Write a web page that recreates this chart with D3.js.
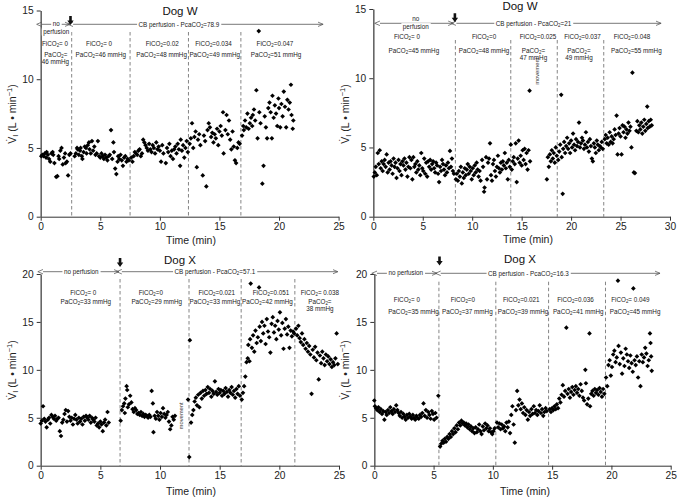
<!DOCTYPE html>
<html><head><meta charset="utf-8">
<script src="https://cdn.jsdelivr.net/npm/d3@7"></script>
<style>body{margin:0;background:#fff}text{font-family:"Liberation Sans",Arial,sans-serif}</style>
</head><body><svg id="c" width="678" height="499"></svg>
<script>
// ---------- DATA ----------
// Dog W, PcaCO2 = 78.9 (top-left)  [time (min), VI (L/min)]
const dogW_A = [
[0.05,4.4],[0.15,4.5],[0.25,4.4],[0.35,4.6],[0.45,4.3],[0.5,4.7],[0.6,4.5],[0.7,4.2],[0.8,4.0],[0.9,4.6],[1.0,4.7],[1.05,4.5],[1.15,3.9],[1.3,2.9],[1.4,2.95],[1.5,4.4],[1.55,4.2],[1.65,4.8],[1.75,5.0],[1.85,3.8],[1.95,4.3],[2.05,4.6],[2.1,3.9],[2.2,4.0],[2.3,3.0],[2.4,4.5],[2.5,4.6],
[2.85,4.4],[2.95,4.6],[3.05,5.0],[3.1,4.9],[3.2,4.5],[3.3,4.8],[3.35,5.0],[3.45,4.4],[3.5,4.2],[3.6,4.7],[3.7,5.1],[3.8,5.0],[3.85,4.6],[3.95,5.2],[4.05,5.4],[4.1,4.9],[4.2,4.6],[4.3,5.5],[4.4,4.8],[4.5,5.1],[4.6,4.5],[4.7,4.6],[4.8,5.5],[4.9,4.4],[5.0,4.3],[5.1,4.6],[5.2,4.4],[5.3,4.2],[5.4,4.5],[5.5,4.3],[5.6,4.1],[5.7,4.4],[5.8,4.5],[5.9,6.3],[6.0,4.2],[6.1,5.4],[6.15,4.7],[6.25,3.5],[6.35,3.1],[6.45,4.0],[6.5,4.4],[6.6,4.2],[6.7,4.5],[6.8,4.1],[6.9,3.7],[7.0,4.3],[7.1,4.4],[7.2,4.0],[7.3,4.2],[7.4,4.1],
[7.6,4.3],[7.7,4.0],[7.8,4.4],[7.9,4.7],[8.0,4.6],[8.1,4.5],[8.2,4.8],[8.3,4.9],[8.4,4.4],[8.5,4.6],[8.6,5.6],[8.7,5.4],[8.8,5.2],[8.9,5.0],[9.0,4.8],[9.1,5.3],[9.2,4.9],[9.3,4.7],[9.4,5.2],[9.5,5.0],[9.6,4.6],[9.7,5.4],[9.8,4.9],[9.9,5.1],[10.0,4.8],[10.1,4.0],[10.2,5.2],[10.3,4.6],[10.5,3.9],[10.6,5.0],[10.7,4.7],[10.8,5.3],[10.9,4.4],[11.0,4.8],[11.1,4.2],[11.2,4.9],[11.3,5.1],[11.4,4.6],[11.5,5.3],[11.6,4.9],[11.7,3.7],[11.75,5.6],[11.85,4.8],[11.95,5.2],[12.05,4.3],[12.15,5.0],[12.25,5.5],[12.35,4.7],
[12.5,5.3],[12.6,5.7],[12.7,6.8],[12.8,5.0],[12.9,5.8],[13.0,6.2],[13.1,3.6],[13.2,5.6],[13.3,6.0],[13.4,5.2],[13.6,3.0],[13.7,5.9],[13.8,5.5],[13.9,2.2],[14.0,6.3],[14.1,6.8],[14.2,6.5],[14.3,5.8],[14.4,6.1],[14.5,5.4],[14.6,6.0],[14.7,5.7],[14.8,6.4],[14.9,5.2],[15.0,6.2],[15.1,6.6],[15.2,5.9],[15.3,7.6],[15.35,4.6],[15.5,6.3],[15.6,7.4],[15.7,6.0],[15.8,7.0],[15.9,5.6],[16.0,4.9],[16.1,6.2],[16.2,5.1],[16.3,4.1],[16.4,3.9],[16.5,5.0],[16.6,5.4],[16.7,5.3],
[16.9,5.9],[17.0,6.6],[17.05,6.3],[17.15,7.0],[17.25,6.5],[17.35,7.5],[17.45,6.4],[17.55,6.8],[17.65,7.2],[17.75,6.6],[17.8,7.4],[17.9,7.8],[18.0,7.0],[18.1,9.2],[18.2,5.7],[18.3,13.5],[18.35,7.6],[18.45,6.8],[18.6,2.4],[18.7,3.7],[18.8,7.3],[18.9,6.5],[19.0,5.7],[19.1,7.9],[19.2,8.3],[19.3,7.6],[19.4,5.7],[19.45,8.8],[19.55,7.2],[19.65,8.1],[19.75,7.5],[19.85,6.6],[19.95,8.6],[20.0,7.9],[20.1,6.5],[20.2,8.2],[20.3,7.3],[20.4,9.1],[20.5,8.0],[20.6,6.5],[20.7,8.5],[20.8,7.8],[20.9,8.3],[21.0,9.6],[21.05,7.4],[21.15,6.4],[21.2,7.0]
];
// Dog W, PcaCO2 = 21 (top-right)
const dogW_B = [
[0.05,2.9],[0.15,3.2],[0.25,3.6],[0.35,3.0],[0.45,4.6],[0.55,3.8],[0.65,4.8],[0.75,3.5],[0.85,4.0],[0.95,3.3],[1.05,3.8],[1.15,4.1],[1.25,3.6],[1.35,4.5],[1.45,3.2],[1.55,3.9],[1.65,3.4],[1.75,4.0],[1.85,3.7],[1.95,3.1],[2.05,4.2],[2.15,3.6],[2.25,3.9],[2.35,2.8],[2.45,3.5],[2.55,4.1],[2.65,3.3],[2.75,3.8],[2.85,3.0],[2.95,4.0],[3.05,3.7],[3.15,4.2],[3.25,3.4],[3.35,3.9],[3.45,2.9],[3.55,3.6],[3.65,4.3],[3.75,3.5],[3.85,4.1],[3.95,2.7],[4.05,4.3],[4.15,3.6],[4.25,3.8],[4.35,3.2],[4.45,4.0],[4.55,3.4],[4.65,3.7],[4.75,3.0],[4.85,4.6],[4.95,3.5],[5.05,3.3],[5.15,4.2],[5.25,3.1],[5.35,3.9],[5.45,2.9],[5.55,4.0],[5.65,3.6],[5.75,4.1],[5.85,3.4],[5.95,3.8],[6.05,4.0],[6.15,3.5],[6.25,3.2],[6.35,3.9],[6.45,3.7],[6.55,3.1],[6.65,2.5],[6.75,3.6],[6.85,3.3],[6.95,4.1],[7.05,3.8],[7.15,3.4],[7.25,3.0],[7.35,3.7],[7.45,3.2],[7.55,3.9],[7.65,3.5],[7.75,4.75],[7.85,3.6],[7.95,4.2],[8.05,3.3],[8.15,3.1],
[8.35,2.7],[8.45,3.1],[8.55,2.6],[8.65,3.3],[8.75,2.9],[8.85,3.6],[8.95,2.4],[9.05,3.2],[9.15,2.8],[9.25,3.5],[9.35,3.0],[9.45,3.4],[9.55,3.8],[9.65,3.1],[9.75,3.6],[9.85,3.3],[9.95,2.7],[10.05,3.5],[10.15,3.0],[10.25,3.7],[10.35,3.2],[10.45,3.9],[10.55,3.4],[10.65,2.9],[10.75,3.3],[10.85,2.6],[11.0,4.1],[11.1,3.6],[11.2,1.8],[11.25,2.1],[11.4,4.3],[11.5,2.7],[11.6,3.9],[11.7,4.2],[11.8,5.3],[11.9,3.0],[12.0,2.6],[12.1,3.8],[12.2,4.1],[12.3,3.3],[12.4,2.9],[12.5,3.6],[12.6,4.4],[12.7,3.5],[12.8,3.2],[12.9,3.9],[13.0,3.4],[13.1,4.0],[13.2,3.7],[13.3,4.6],[13.4,3.5],[13.5,3.9],[13.6,2.7],[13.7,4.1],[13.8,3.6],[13.9,5.2],[14.0,3.4],[14.1,4.0],[14.2,4.3],[14.3,3.8],[14.4,5.3],[14.5,2.5],[14.6,4.2],[14.7,5.5],[14.8,3.9],[14.9,4.4],[15.0,3.7],[15.1,4.8],[15.2,4.1],[15.3,4.9],[15.4,3.8],[15.5,4.6],[15.6,3.4],[15.7,4.8],[15.8,9.1],[15.85,4.0],
[17.55,2.7],[17.65,4.3],[17.75,3.6],[17.85,4.5],[17.95,4.0],[18.05,4.8],[18.15,4.2],[18.25,4.6],[18.35,3.9],[18.45,5.0],[18.55,4.4],
[18.7,4.1],[18.8,4.7],[18.9,5.2],[19.0,8.8],[19.05,4.3],[19.15,1.65],[19.2,4.9],[19.3,5.4],[19.4,4.6],[19.5,5.1],[19.6,5.7],[19.7,4.9],[19.8,5.3],[19.9,4.6],[20.0,5.5],[20.1,5.0],[20.2,6.0],[20.3,5.2],[20.4,4.8],[20.5,5.6],[20.6,5.1],[20.7,5.4],[20.8,6.8],[20.9,5.0],[21.0,5.3],[21.1,5.7],[21.2,5.5],[21.3,4.9],[21.4,5.2],[21.5,6.1],[21.6,5.0],[21.7,5.4],[21.8,4.7],[21.9,5.6],[22.0,5.1],[22.1,4.2],[22.2,4.0],[22.3,5.3],[22.4,5.0],[22.5,4.6],[22.6,5.5],[22.7,5.2],[22.8,4.8],[22.9,5.1],[23.0,5.0],[23.1,5.4],[23.2,4.9],
[23.4,5.6],[23.5,5.9],[23.6,5.3],[23.7,5.7],[23.8,5.2],[23.9,6.1],[24.0,5.4],[24.1,5.8],[24.2,5.3],[24.3,5.6],[24.4,6.3],[24.5,5.9],[24.6,7.3],[24.7,4.5],[24.8,6.0],[24.9,6.4],[25.0,5.8],[25.1,4.5],[25.2,6.6],[25.3,6.1],[25.4,6.5],[25.5,5.7],[25.6,6.3],[25.7,6.0],[25.8,6.8],[25.9,6.2],[26.0,6.5],[26.1,5.0],[26.2,10.4],[26.35,3.2],[26.45,3.15],[26.6,6.2],[26.7,6.9],[26.8,6.1],[26.9,6.6],[27.0,6.3],[27.1,6.8],[27.2,6.0],[27.3,6.5],[27.4,7.0],[27.5,6.2],[27.6,6.7],[27.7,7.95],[27.75,6.4],[27.85,6.9],[27.95,6.5],[28.05,7.0],[28.15,6.6]
];
// Dog X, PcaCO2 = 57.1 (bottom-left)
const dogX_A = [
[0.0,4.4],[0.1,4.7],[0.2,6.2],[0.3,4.9],[0.4,4.6],[0.5,4.0],[0.6,4.8],[0.7,5.0],[0.8,4.4],[0.9,5.3],[1.0,5.1],[1.1,4.9],[1.2,5.2],[1.3,4.7],[1.4,4.9],[1.5,5.0],[1.6,3.6],[1.7,3.1],[1.8,4.5],[1.9,4.8],[2.0,5.4],[2.1,5.8],[2.2,4.6],[2.3,5.7],[2.4,5.1],[2.5,4.7],[2.6,5.0],[2.7,4.3],[2.8,4.9],[2.9,5.3],[3.0,4.8],[3.1,4.4],[3.2,5.0],[3.3,4.6],[3.4,4.9],[3.5,4.3],[3.6,5.1],[3.7,4.7],[3.8,5.2],[3.9,5.0],[4.0,4.8],[4.1,5.2],[4.2,4.5],[4.3,5.0],[4.4,4.8],[4.5,4.6],[4.6,5.0],[4.7,4.2],[4.8,4.4],[4.9,4.0],[5.0,4.6],[5.1,4.3],[5.2,3.6],[5.3,4.5],[5.4,4.8],[5.5,4.2],[5.6,5.6],[5.7,4.5],
[6.7,4.7],[6.8,5.8],[6.9,6.2],[7.0,6.5],[7.05,5.5],[7.1,7.0],[7.2,8.3],[7.25,7.9],[7.3,6.1],[7.4,6.4],[7.5,7.3],[7.6,6.6],[7.7,5.9],[7.8,5.6],[7.9,6.0],[8.0,5.8],[8.1,5.4],[8.2,5.5],[8.3,5.3],[8.4,5.6],[8.5,5.2],[8.6,5.4],[8.7,5.1],[8.8,5.3],[8.9,5.2],[9.0,5.0],[9.1,5.3],[9.2,5.1],[9.3,7.8],[9.4,6.5],[9.45,3.5],[9.55,5.2],[9.65,4.9],[9.75,5.6],[9.85,5.2],[9.95,4.8],[10.05,5.5],[10.15,5.1],[10.25,6.0],[10.35,5.4],[10.45,5.0],[10.55,5.3],[10.65,5.6],[10.75,4.6],[10.85,3.8],[10.95,4.2],[11.05,5.1],[11.15,4.8],[11.25,5.2],
[12.35,6.9],[12.45,0.9],[12.5,13.1],[12.6,4.5],[12.7,5.3],[12.8,5.8],[12.9,6.7],[13.0,7.1],[13.1,6.3],[13.2,7.4],[13.3,6.1],[13.4,7.6],[13.5,7.0],[13.6,7.8],[13.7,7.3],[13.8,7.9],[13.9,7.5],[14.0,8.2],[14.1,7.6],[14.2,8.0],[14.3,7.2],[14.4,7.8],[14.5,7.5],[14.6,8.8],[14.7,7.7],[14.8,7.4],[14.9,8.0],[15.0,7.6],[15.1,7.9],[15.2,7.3],[15.3,7.8],[15.4,7.5],[15.5,8.1],[15.6,7.7],[15.7,7.2],[15.8,7.9],[15.9,7.6],[16.0,8.2],[16.1,7.4],[16.2,7.8],[16.3,7.1],[16.4,8.0],[16.5,7.5],[16.6,8.3],[16.7,7.3],
[16.85,6.9],[16.95,7.6],[17.05,8.3],[17.15,9.3],[17.25,10.8],[17.35,11.2],[17.4,12.6],[17.5,10.9],[17.55,13.2],[17.6,19.0],[17.7,12.3],[17.8,13.6],[17.9,11.9],[18.0,14.1],[18.1,12.8],[18.2,13.4],[18.3,18.6],[18.35,14.5],[18.45,13.0],[18.55,15.0],[18.65,13.8],[18.75,14.6],[18.85,12.7],[18.95,15.3],[19.05,14.0],[19.15,13.4],[19.25,11.8],[19.35,14.8],[19.45,15.5],[19.55,13.9],[19.65,14.6],[19.75,13.2],[19.85,15.1],[19.95,14.2],[20.05,16.0],[20.15,13.6],[20.25,14.9],[20.35,12.2],[20.45,14.3],[20.55,15.3],[20.65,13.7],[20.75,14.5],[20.85,12.3],[20.95,14.1],[21.05,13.5],[21.15,14.0],[21.25,13.8],
[21.4,14.3],[21.5,13.6],[21.6,14.6],[21.7,13.3],[21.8,12.9],[21.9,13.8],[22.0,12.6],[22.1,13.2],[22.2,12.2],[22.3,12.8],[22.4,11.9],[22.5,12.5],[22.6,11.6],[22.7,7.5],[22.8,12.1],[22.9,11.3],[23.0,12.4],[23.1,11.0],[23.2,11.8],[23.3,9.0],[23.4,11.5],[23.5,10.7],[23.6,11.9],[23.7,11.2],[23.8,10.5],[23.9,11.6],[24.0,10.9],[24.1,11.4],[24.2,10.6],[24.3,11.1],[24.4,10.3],[24.5,10.8],[24.6,10.5],[24.7,11.2],[24.8,13.8],[24.9,10.6]
];
// Dog X, PcaCO2 = 16.3 (bottom-right)
const dogX_B = [
[0.0,6.8],[0.05,6.2],[0.15,6.0],[0.25,5.8],[0.35,6.1],[0.45,5.6],[0.55,5.9],[0.65,5.4],[0.75,5.7],[0.85,4.8],[0.95,5.6],[1.05,5.3],[1.15,5.8],[1.25,5.5],[1.35,6.1],[1.45,5.7],[1.55,5.4],[1.65,5.9],[1.75,5.6],[1.85,6.3],[1.95,5.8],[2.05,5.5],[2.15,5.2],[2.25,5.6],[2.35,5.0],[2.45,5.4],[2.55,5.1],[2.65,4.8],[2.75,5.3],[2.85,5.0],[2.95,5.4],[3.05,5.1],[3.15,4.9],[3.25,5.3],[3.35,5.0],[3.45,4.8],[3.55,5.2],[3.65,5.0],[3.75,4.9],[3.85,5.3],[3.95,5.1],[4.05,5.5],[4.15,6.5],[4.25,5.2],[4.35,5.8],[4.45,5.0],[4.55,5.6],[4.65,5.3],[4.75,4.9],[4.85,5.7],[4.95,5.4],[5.05,4.8],[5.15,5.5],[5.25,5.0],
[5.4,7.3],[5.55,2.0],[5.65,2.3],[5.75,2.6],[5.85,2.4],[5.95,2.8],[6.05,2.5],[6.15,3.0],[6.25,2.8],[6.35,3.3],[6.45,3.0],[6.55,3.6],[6.65,3.3],[6.75,3.9],[6.85,3.5],[6.95,4.2],[7.05,3.8],[7.15,4.5],[7.25,4.2],[7.35,4.7],[7.45,4.4],[7.55,4.5],[7.65,4.2],[7.75,4.4],[7.85,4.0],[7.95,4.3],[8.05,3.8],[8.15,4.1],[8.25,3.6],[8.35,3.9],[8.45,3.4],[8.55,4.0],[8.65,3.5],[8.75,3.8],[8.85,4.3],[8.95,3.6],[9.05,3.3],[9.15,4.1],[9.25,3.7],[9.35,4.4],[9.45,3.9],[9.55,4.2],[9.65,3.6],[9.75,3.9],[9.85,3.5],[9.95,3.3],[10.05,3.6],[10.15,3.9],
[10.35,4.5],[10.45,4.0],[10.55,4.4],[10.65,3.8],[10.75,4.3],[10.85,3.9],[10.95,4.1],[11.05,3.6],[11.15,4.5],[11.25,4.0],[11.35,4.6],[11.45,3.4],[11.55,5.3],[11.65,6.2],[11.75,4.3],[11.85,2.4],[11.95,5.8],[12.05,7.8],[12.15,6.3],[12.25,6.9],[12.35,5.9],[12.45,6.5],[12.55,5.5],[12.65,6.1],[12.75,5.3],[12.85,5.8],[12.95,4.8],[13.05,5.6],[13.15,5.2],[13.25,5.9],[13.35,5.4],[13.45,6.2],[13.55,5.5],[13.65,5.8],[13.75,5.3],[13.85,5.7],[13.95,6.3],[14.05,5.5],[14.15,5.9],[14.25,5.2],[14.35,5.6],[14.45,6.0],[14.55,5.7],
[14.8,5.9],[14.9,5.6],[15.0,6.0],[15.1,5.8],[15.2,6.2],[15.3,5.9],[15.4,6.4],[15.5,6.0],[15.6,7.0],[15.7,6.6],[15.8,7.4],[15.9,8.4],[16.0,7.2],[16.1,7.8],[16.2,14.4],[16.3,7.5],[16.4,8.0],[16.5,7.1],[16.6,7.7],[16.7,8.2],[16.8,7.4],[16.9,7.9],[17.0,8.3],[17.1,7.6],[17.2,8.0],[17.3,7.3],[17.4,8.5],[17.5,7.8],[17.6,7.1],[17.7,6.8],[17.8,10.0],[17.85,8.6],[17.95,6.4],[18.05,7.0],[18.15,13.8],[18.2,6.2],[18.3,7.5],[18.4,7.8],[18.5,7.3],[18.6,8.0],[18.7,7.6],[18.8,7.9],[18.9,7.4],[19.0,8.1],[19.1,7.7],[19.2,7.2],[19.3,8.0],[19.4,7.5],
[19.55,9.2],[19.65,8.3],[19.75,10.5],[19.85,11.0],[19.95,9.4],[20.05,10.3],[20.15,11.6],[20.25,12.0],[20.35,10.8],[20.45,11.3],[20.55,19.3],[20.6,12.5],[20.7,10.6],[20.8,11.8],[20.9,9.6],[21.0,11.2],[21.1,10.4],[21.2,12.2],[21.3,11.6],[21.4,10.9],[21.5,10.2],[21.6,11.5],[21.7,10.7],[21.8,9.8],[21.85,18.5],[21.95,11.0],[22.05,10.5],[22.15,11.4],[22.25,9.2],[22.35,10.9],[22.45,8.3],[22.55,11.6],[22.65,10.8],[22.75,11.3],[22.85,12.3],[22.95,11.7],[23.05,10.4],[23.15,11.0],[23.25,13.8],[23.3,12.8],[23.35,11.4],[23.4,9.9]
];

// axis ticks
const xTicks25 = [0,5,10,15,20,25];
const xTicks30 = [0,5,10,15,20,25,30];
const yTicks15 = [0,5,10,15];
const yTicks20 = [0,5,10,15,20];

// condition boundaries (min)
const boundsW_A = [2.6,7.5,12.4,16.8];
const boundsW_B = [8.3,13.9,18.6,23.3];
const boundsX_A = [6.65,12.43,16.8,21.3];
const boundsX_B = [5.45,10.25,14.7,19.5];

// condition labels: [time centre, text]
const fiW_A = [[1.2,"FiCO2= 0"],[4.9,"FiCO2= 0"],[10.2,"FiCO2=0.02"],[14.5,"FiCO2=0.034"],[19.65,"FiCO2=0.047"]];
const paW_A = [[1.27,"PaCO2="],[5.04,"PaCO2=46 mmHg"],[10.15,"PaCO2=48 mmHg"],[14.6,"PaCO2=49 mmHg"],[19.75,"PaCO2=51 mmHg"]];
const pa2W_A = [[1.24,"46 mmHg"]];
const fiW_B = [[3.4,"FiCO2= 0"],[11.2,"FiCO2=0"],[16.65,"FiCO2=0.025"],[21.15,"FiCO2=0.037"],[26.15,"FiCO2=0.048"]];
const paW_B = [[4.1,"PaCO2=45 mmHg"],[11.2,"PaCO2=48 mmHg"],[16.2,"PaCO2="],[20.8,"PaCO2="],[26.6,"PaCO2=55 mmHg"]];
const pa2W_B = [[16.2,"47 mmHg"],[20.8,"49 mmHg"]];
const fiX_A = [[3.57,"FiCO2= 0"],[9.23,"FiCO2=0"],[14.75,"FiCO2=0.021"],[19.3,"FiCO2=0.051"],[23.4,"FiCO2= 0.038"]];
const paX_A = [[3.78,"PaCO2=33 mmHg"],[9.72,"PaCO2=29 mmHg"],[14.6,"PaCO2=33 mmHg"],[19.0,"PaCO2=42 mmHg"],[23.4,"PaCO2="]];
const pa2X_A = [[23.4,"38 mmHg"]];
const fiX_B = [[2.75,"FiCO2= 0"],[7.47,"FiCO2=0"],[12.4,"FiCO2=0.021"],[16.97,"FiCO2=0.036"],[21.6,"FiCO2= 0.049"]];
const paX_B = [[3.3,"PaCO2=35 mmHg"],[7.85,"PaCO2=37 mmHg"],[12.55,"PaCO2=39 mmHg"],[17.2,"PaCO2=41 mmHg"],[22.0,"PaCO2=45 mmHg"]];
const pa2X_B = [];

// ---------- LAYOUT ----------
const panels = [
 {data:dogW_A, x0:40.7, x1:338.6, yTop:10.5, yBot:216.7, xMax:25, yMax:15, xTicks:xTicks25, yTicks:yTicks15,
  title:"Dog W", titleX:180, titleY:15, bounds:boundsW_A, dashTop:32, fi:fiW_A, pa:paW_A, pa2:pa2W_A, rows:[45.5,56.8,64],
  arrowY:24.3, noPerf:[0.1,2.45], noStacked:true, noY:[26.3,34], noT:1.3, down:2.5, downTop:16, cb:[2.72,23.7], cbText:"CB perfusion - PcaCO2=78.9", cbT:11.6, movement:null, timeY:243.5, ylabX:16, ylabY:114, timeX:191},
 {data:dogW_B, x0:373.3, x1:670, yTop:9, yBot:216.7, xMax:30, yMax:15, xTicks:xTicks30, yTicks:yTicks15,
  title:"Dog W", titleX:520, titleY:9.8, bounds:boundsW_B, dashTop:40, fi:fiW_B, pa:paW_B, pa2:pa2W_B, rows:[38.8,53,60.3],
  arrowY:23.3, noPerf:[0.67,8.1], noStacked:true, noY:[21.3,28.6], noT:4.3, down:8.25, downTop:13.3, cb:[8.4,29.1], cbText:"CB perfusion - PcaCO2=21", cbT:16.2, movement:[16.75,10.5], timeY:243, ylabX:349, ylabY:114, timeX:528},
 {data:dogX_A, x0:40.7, x1:339, yTop:274, yBot:465.7, xMax:25, yMax:20, xTicks:xTicks25, yTicks:yTicks20,
  title:"Dog X", titleX:180, titleY:264, bounds:boundsX_A, dashTop:279, fi:fiX_A, pa:paX_A, pa2:pa2X_A, rows:[294.5,303.5,310.8],
  arrowY:271.7, noPerf:[0.2,6.55], noStacked:false, noY:[273.8], noT:3.4, down:6.65, downTop:258, cb:[6.8,24.9], cbText:"CB perfusion - PcaCO2=57.1", cbT:14.6, movement:[11.9,5.2], timeY:494.5, ylabX:16, ylabY:370, timeX:191},
 {data:dogX_B, x0:374.3, x1:670.7, yTop:274, yBot:465.7, xMax:25, yMax:20, xTicks:xTicks25, yTicks:yTicks20,
  title:"Dog X", titleX:520, titleY:263.3, bounds:boundsX_B, dashTop:281.7, fi:fiX_B, pa:paX_B, pa2:pa2X_B, rows:[301.5,313.5,320],
  arrowY:273.3, noPerf:[0.23,5.28], noStacked:false, noY:[275.4], noT:2.65, down:5.5, downTop:256.5, cb:[5.6,24.1], cbText:"CB perfusion - PcaCO2=16.3", cbT:13.0, movement:null, timeY:494.5, ylabX:349, ylabY:370, timeX:525}
];

const svg = d3.select("#c");
const defs = svg.append("defs");
["arrE","arrS"].forEach((id,i)=>{
  defs.append("marker").attr("id",id).attr("viewBox","0 0 8 8").attr("refX",i?0:7).attr("refY",4)
   .attr("markerWidth",6).attr("markerHeight",6).attr("markerUnits","userSpaceOnUse").attr("orient","auto-start-reverse")
   .append("path").attr("d","M0,1 L7,4 L0,7").attr("fill","none").attr("stroke","#555").attr("stroke-width",1);
});

const SMALL = 6.3;
function rich(sel, str, fs){
  const parts = str.split("CO2");
  parts.forEach((p,i)=>{
    if(i>0){
      sel.append("tspan").text("CO");
      sel.append("tspan").attr("dy",fs*0.22).attr("font-size",fs*0.7).text("2");
      sel.append("tspan").attr("dy",-fs*0.22).text(p);
    } else if(p.length) sel.append("tspan").text(p);
  });
  return sel;
}
function backRect(g, textSel){
  const node = textSel.node(), b = node.getBBox();
  g.insert("rect", () => node).attr("x",b.x-1.5).attr("y",b.y+0.5).attr("width",b.width+3).attr("height",b.height-1)
    .attr("fill","#fff");
}

panels.forEach(P=>{
  const g = svg.append("g");
  const x = d3.scaleLinear().domain([0,P.xMax]).range([P.x0,P.x1]);
  const y = d3.scaleLinear().domain([0,P.yMax]).range([P.yBot,P.yTop]);

  // dashed condition lines
  g.selectAll(".dl").data(P.bounds).join("line")
    .attr("x1",d=>x(d)).attr("x2",d=>x(d)).attr("y1",P.dashTop).attr("y2",P.yBot)
    .attr("stroke","#666").attr("stroke-width",0.8).attr("stroke-dasharray","3.5,2.5");

  // axes
  const xa = g.append("g").attr("transform",`translate(0,${P.yBot})`)
    .call(d3.axisBottom(x).tickValues(P.xTicks).tickSize(4).tickSizeOuter(0).tickPadding(2));
  const ya = g.append("g").attr("transform",`translate(${P.x0},0)`)
    .call(d3.axisLeft(y).tickValues(P.yTicks).tickSize(4).tickSizeOuter(0).tickPadding(3));
  [xa,ya].forEach(a=>{
    a.selectAll("path,line").attr("stroke","#333").attr("stroke-width",1);
    a.selectAll("text").attr("font-size",10.2).attr("fill","#222").attr("font-family",'"Liberation Sans",Arial,sans-serif');
  });
  ya.select(".domain").attr("stroke","#666").attr("stroke-width",1.6);

  // points
  g.selectAll(".pt").data(P.data).join("path")
    .attr("d",d3.symbol(d3.symbolSquare,11))
    .attr("transform",d=>`translate(${x(d[0])},${y(d[1])}) rotate(45)`)
    .attr("fill","#000");

  // title
  g.append("text").attr("x",P.titleX).attr("y",P.titleY).attr("text-anchor","middle")
    .attr("font-size",11.5).attr("fill","#111").text(P.title);

  // condition labels
  const rowSets = [[P.fi,P.rows[0]],[P.pa,P.rows[1]],[P.pa2,P.rows[2]]];
  rowSets.forEach(([arr,yy])=>{
    arr.forEach(([t,s])=>{
      const tx = g.append("text").attr("x",x(t)).attr("y",yy).attr("text-anchor","middle")
        .attr("font-size",SMALL).attr("fill","#222");
      rich(tx,s,SMALL);
    });
  });

  // arrows
  g.append("line").attr("x1",x(P.noPerf[0])).attr("x2",x(P.noPerf[1])).attr("y1",P.arrowY).attr("y2",P.arrowY)
    .attr("stroke","#555").attr("stroke-width",0.8).attr("marker-start","url(#arrS)").attr("marker-end","url(#arrE)");
  const addSmall = (tx,ty,s)=>{
    const t = g.append("text").attr("x",tx).attr("y",ty).attr("text-anchor","middle").attr("font-size",SMALL).attr("fill","#222");
    rich(t,s,SMALL); backRect(g,t); return t;
  };
  if(P.noStacked){
    addSmall(x(P.noT),P.noY[0],"no");
    addSmall(x(P.noT),P.noY[1],"perfusion");
  } else {
    addSmall(x(P.noT),P.noY[0],"no perfusion");
  }
  g.append("line").attr("x1",x(P.cb[0])).attr("x2",x(P.cb[1])).attr("y1",P.arrowY).attr("y2",P.arrowY)
    .attr("stroke","#555").attr("stroke-width",0.8).attr("marker-start","url(#arrS)").attr("marker-end","url(#arrE)");
  addSmall(x(P.cbT),P.arrowY+2.2,P.cbText);

  // bold down arrow (start of perfusion)
  const dx = x(P.down), dt = P.downTop;
  g.append("path").attr("d",`M${dx-1.3},${dt} L${dx+1.3},${dt} L${dx+1.3},${dt+4.5} L${dx+3.2},${dt+4.5} L${dx},${dt+9} L${dx-3.2},${dt+4.5} L${dx-1.3},${dt+4.5} Z`)
    .attr("fill","#111");

  // movement note
  if(P.movement){
    const mx = x(P.movement[0]), my = y(P.movement[1]);
    g.append("text").attr("transform",`translate(${mx},${my}) rotate(-90)`).attr("text-anchor","middle")
      .attr("font-size",5.8).attr("fill","#333").text("movement");
  }

  // axis titles
  g.append("text").attr("x",P.timeX).attr("y",P.timeY).attr("text-anchor","middle").attr("font-size",10.5).attr("fill","#222").text("Time (min)");
  const yl = g.append("text").attr("transform",`translate(${P.ylabX},${P.ylabY}) rotate(-90)`).attr("text-anchor","middle")
    .attr("font-size",10.5).attr("fill","#222");
  yl.append("tspan").text("V\u0307");
  yl.append("tspan").attr("dy",2).attr("font-size",7.5).text("I");
  yl.append("tspan").attr("dy",-2).text(" (L \u2022 min");
  yl.append("tspan").attr("dy",-4).attr("font-size",7.5).text("\u22121");
  yl.append("tspan").attr("dy",4).text(")");
});
</script></body></html>
